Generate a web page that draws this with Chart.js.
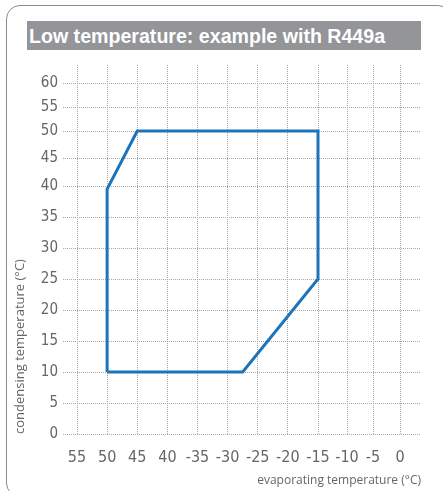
<!DOCTYPE html>
<html>
<head>
<meta charset="utf-8">
<script src="https://cdn.jsdelivr.net/npm/chart.js@4"></script>
<style>
  html, body { margin: 0; padding: 0; background: #fff; }
  body { width: 443px; height: 491px; position: relative; overflow: hidden; }
  #frame {
    position: absolute; left: 6px; top: 5px; width: 446px; height: 492px;
    border: 1px solid #8c8c8c; border-radius: 14px; box-sizing: border-box;
  }
  #title {
    position: absolute; left: 27px; top: 21px; width: 394px; height: 29px;
    background: #939598; color: #fff;
    font: bold 19.6px "Liberation Sans", Arial, sans-serif;
    line-height: 30px; padding-left: 2px; box-sizing: border-box; white-space: nowrap;
  }
  #wrap { position: absolute; left: 0; top: 0; width: 443px; height: 491px; }
</style>
</head>
<body>
<div id="frame"></div>
<div id="title">Low temperature: example with R449a</div>
<div id="wrap"><canvas id="chart"></canvas></div>
<script>
// data
const evapTemp = [-50, -50, -45, -15, -15, -27.5, -50];
const condTemp = [10, 39.5, 50, 50, 25, 10, 10];
const xTickValues = [-55, -50, -45, -40, -35, -30, -25, -20, -15, -10, -5, 0];
const xTickLabels = ['55', '50', '45', '40', '-35', '-30', '-25', '-20', '-15', '-10', '-5', '0'];
const yTickValues = [0, 5, 10, 15, 20, 25, 30, 35, 40, 45, 50, 55, 60];

// echelle lineaire par morceaux (l'axe du dessin n'est pas regulier)
class KnotScale extends Chart.LinearScale {
  _frac(v) {
    const k = this.options.knots;
    const total = k[k.length - 1][1];
    if (v <= k[0][0]) return 0;
    for (let i = 1; i < k.length; i++) {
      if (v <= k[i][0]) {
        const t = (v - k[i - 1][0]) / (k[i][0] - k[i - 1][0]);
        return (k[i - 1][1] + t * (k[i][1] - k[i - 1][1])) / total;
      }
    }
    return 1;
  }
  getPixelForValue(value) {
    const f = this._frac(value);
    return this.isHorizontal() ? this.left + f * this.width : this.bottom - f * this.height;
  }
  getValueForPixel(pixel) {
    const k = this.options.knots;
    const total = k[k.length - 1][1];
    const f = this.isHorizontal() ? (pixel - this.left) / this.width : (this.bottom - pixel) / this.height;
    const w = f * total;
    for (let i = 1; i < k.length; i++) {
      if (w <= k[i][1]) {
        const t = (w - k[i - 1][1]) / (k[i][1] - k[i - 1][1]);
        return k[i - 1][0] + t * (k[i][0] - k[i - 1][0]);
      }
    }
    return k[k.length - 1][0];
  }
}
KnotScale.id = 'knot';
KnotScale.defaults = Chart.LinearScale.defaults;
Chart.register(KnotScale);

const tickFont = { family: '"Liberation Sans Narrow", "DejaVu Sans Condensed", "Liberation Sans", sans-serif', size: 16 };
const titleFont = { family: '"Open Sans", "Noto Sans", sans-serif', size: 12 };

new Chart(document.getElementById('chart'), {
  type: 'scatter',
  data: {
    datasets: [{
      data: evapTemp.map((x, i) => ({ x: x, y: condTemp[i] })),
      showLine: true,
      borderColor: '#1c75bc',
      borderWidth: 3,
      pointRadius: 0,
      tension: 0,
      fill: false
    }]
  },
  options: {
    responsive: true,
    maintainAspectRatio: false,
    animation: false,
    layout: { padding: { left: 0, top: 65, right: 22, bottom: 0 } },
    plugins: { legend: { display: false }, tooltip: { enabled: false } },
    scales: {
      x: {
        type: 'knot',
        min: -57.3, max: 3.9,
        knots: [[-57.3, 0], [-55, 14], [-15, 255], [-10, 284], [-5, 310], [0, 337], [3.9, 358]],
        afterBuildTicks: s => { s.ticks = xTickValues.map(v => ({ value: v })); },
        afterFit: s => { s.height = 57; },
        grid: { color: '#a8a8a8', lineWidth: 1, drawTicks: false },
        border: { display: false, dash: [1, 1] },
        ticks: {
          autoSkip: false, maxRotation: 0, padding: 14,
          color: '#666', font: tickFont,
          callback: (v) => xTickLabels[xTickValues.indexOf(v)]
        },
        title: {
          display: true, align: 'end', text: 'evaporating temperature (°C)',
          color: '#666', font: titleFont, padding: { top: 0, bottom: 3 }
        }
      },
      y: {
        type: 'knot',
        min: 0, max: 63.75,
        knots: [[0, 0], [40, 248], [50, 303], [60, 351], [63.75, 369]],
        afterBuildTicks: s => { s.ticks = yTickValues.map(v => ({ value: v })); },
        afterFit: s => { s.width = 63; },
        grid: { color: '#a8a8a8', lineWidth: 1, drawTicks: false },
        border: { display: false, dash: [1, 1] },
        ticks: {
          autoSkip: false, padding: 5,
          color: '#666', font: { family: tickFont.family, size: 15 },
          callback: (v) => String(v)
        },
        title: {
          display: true, align: 'start', text: 'condensing temperature (°C)',
          color: '#666', font: { family: titleFont.family, size: 13 }, padding: { top: 12, bottom: 0 }
        }
      }
    }
  }
});
</script>
</body>
</html>
